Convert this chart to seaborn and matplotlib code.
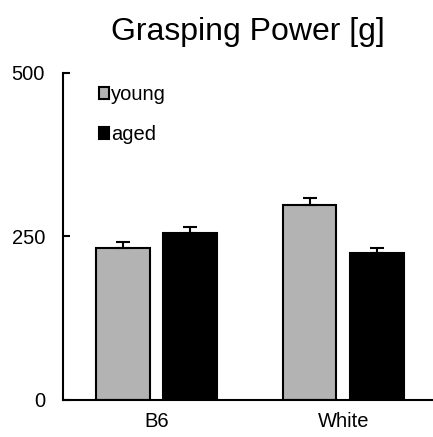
import pandas as pd
import matplotlib.pyplot as plt
import seaborn as sns

# values
strains = ["B6", "White"]
groups = ["young", "aged"]
young_mean = [232, 298]
aged_mean = [255, 224]
young_err = [9, 11]
aged_err = [10, 9]
y_ticks = [0, 250, 500]

df = pd.DataFrame({
    "Strain": strains * 2,
    "Group": ["young"] * 2 + ["aged"] * 2,
    "Power": young_mean + aged_mean,
    "Err": young_err + aged_err,
})

sns.set_style("white")
plt.rcParams["font.family"] = ["Liberation Sans", "DejaVu Sans"]
plt.rcParams["text.color"] = "black"
plt.rcParams["xtick.color"] = "black"
plt.rcParams["ytick.color"] = "black"

fig = plt.figure(figsize=(4.33, 4.37), dpi=100)
ax = fig.add_axes([0.1455, 0.085, 0.852, 0.748])

palette = {"young": "#b3b3b3", "aged": "#000000"}
sns.barplot(data=df, x="Strain", y="Power", hue="Group", hue_order=groups,
            order=strains, palette=palette, width=0.72, gap=0.2,
            edgecolor="black", linewidth=1.5, errorbar=None, ax=ax,
            saturation=1)

# upper-only error bars, placed on the drawn bars
for cont, g in zip(ax.containers, groups):
    sub = df[df["Group"] == g].set_index("Strain").loc[strains]
    xs = [p.get_x() + p.get_width() / 2 for p in cont.patches]
    ax.errorbar(xs, sub["Power"], yerr=[[0] * len(xs), sub["Err"]],
                fmt="none", ecolor="black", elinewidth=1.5, capsize=5,
                capthick=1.5, zorder=1)

ax.set_ylim(0, 500)
ax.set_xlim(-0.5, 1.475)
ax.set_yticks(y_ticks)
ax.set_xlabel("")
ax.set_ylabel("")
ax.set_title("Grasping Power [g]", fontsize=23, pad=24, color="black")
sns.despine(ax=ax)
for s in ["left", "bottom"]:
    ax.spines[s].set_linewidth(1.5)
    ax.spines[s].set_color("black")
ax.tick_params(axis="y", direction="in", length=5, width=1.5, pad=13,
               labelsize=14.5, left=True)
ax.tick_params(axis="x", length=0, pad=9, labelsize=14.5)

ax.legend(loc="upper left", bbox_to_anchor=(0.048, 1.018), frameon=False,
          fontsize=14.5, handlelength=0.5, handleheight=0.5,
          handletextpad=0.1, labelspacing=1.05)

fig.savefig("out.png", dpi=100)
